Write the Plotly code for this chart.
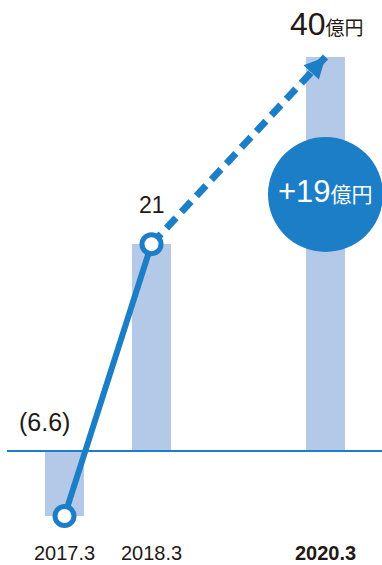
import plotly.graph_objects as go

# ---- data ----
axis_periods = ["2017.3", "2018.3", "2019.3", "2020.3"]   # 2019.3 is an empty slot
periods = ["2017.3", "2018.3", "2020.3"]
values = [-6.6, 21, 40]
actual_periods = periods[:2]
actual_values = values[:2]
plan_periods = periods[1:]
plan_values = values[1:]
value_labels = ["(6.6)", "21", "40"]
unit = "億円"

BAR = "#b4c8e7"
BLUE = "#1b7ec6"
TEXT = "#231815"
FONT = "Liberation Sans, Arial, Noto Sans CJK JP"

fig = go.Figure()

fig.add_trace(go.Bar(
    x=periods, y=values, width=0.437,
    marker=dict(color=BAR, line=dict(width=0)),
    hoverinfo="skip",
))

# dashed projection line
fig.add_trace(go.Scatter(
    x=plan_periods, y=plan_values, mode="lines",
    line=dict(color=BLUE, width=7, dash="14px,8px"),
    hoverinfo="skip",
))

# solid actual line + open markers
fig.add_trace(go.Scatter(
    x=actual_periods, y=actual_values, mode="lines+markers",
    line=dict(color=BLUE, width=6),
    marker=dict(size=19, color="white", line=dict(color=BLUE, width=5)),
    hoverinfo="skip",
))

idx = {p: i for i, p in enumerate(axis_periods)}

annotations = []
# arrow head at end of projection
annotations.append(dict(
    x=idx[plan_periods[-1]], y=plan_values[-1], xref="x", yref="y",
    ax=-13.6, ay=14.6,
    text="", showarrow=True, arrowhead=2, arrowsize=0.7, arrowwidth=6,
    arrowcolor=BLUE,
))

# value labels
annotations.append(dict(
    x=idx[periods[0]], y=0, xref="x", yref="y", text=value_labels[0],
    showarrow=False, xshift=-20, yshift=29, yanchor="middle",
    font=dict(family=FONT, size=25, color=TEXT),
))
annotations.append(dict(
    x=idx[periods[1]], y=values[1], xref="x", yref="y", text=value_labels[1],
    showarrow=False, yshift=39, yanchor="middle",
    font=dict(family=FONT, size=23, color=TEXT),
))
annotations.append(dict(
    x=idx[periods[2]], y=values[2], xref="x", yref="y",
    text=f"{value_labels[2]}<span style='font-size:19px'>{unit}</span>",
    showarrow=False, yshift=33, yanchor="middle", xshift=1,
    font=dict(family=FONT, size=32, color=TEXT),
))

# callout difference
diff = plan_values[-1] - plan_values[0]
annotations.append(dict(
    x=idx[periods[2]], y=values[2], xref="x", yref="y",
    text=f"+{diff:g}<span style='font-size:21px'>{unit}</span>",
    showarrow=False, yshift=-134, yanchor="middle",
    font=dict(family=FONT, size=31, color="white"),
))

# x labels
for p in periods:
    txt = f"<b>{p}</b>" if p == periods[-1] else p
    annotations.append(dict(
        x=idx[p], y=0, xref="x", yref="paper", text=txt, showarrow=False,
        yanchor="middle", yshift=12,
        font=dict(family=FONT, size=20, color=TEXT),
    ))

shapes = [
    # zero line
    dict(type="line", xref="paper", yref="y", x0=7/382, x1=1, y0=0, y1=0,
         line=dict(color=BLUE, width=2), layer="above"),
    # callout circle
    dict(type="circle", xref="x", yref="y", xsizemode="pixel", ysizemode="pixel",
         xanchor=idx[periods[2]], yanchor=values[2], x0=-57.5, x1=57.5, y0=-195, y1=-80,
         fillcolor=BLUE, line=dict(width=0), layer="above"),
]

fig.update_layout(
    width=382, height=565,
    margin=dict(l=0, r=0, t=0, b=0),
    paper_bgcolor="white", plot_bgcolor="white",
    showlegend=False,
    xaxis=dict(type="category", categoryorder="array", categoryarray=axis_periods,
               range=[-0.7414, 3.6494], visible=False, fixedrange=True),
    yaxis=dict(range=[-11.574, 45.787], visible=False, fixedrange=True, zeroline=False),
    annotations=annotations,
    shapes=shapes,
    bargap=0,
)

fig.write_html("out.html", config={"displayModeBar": False})
